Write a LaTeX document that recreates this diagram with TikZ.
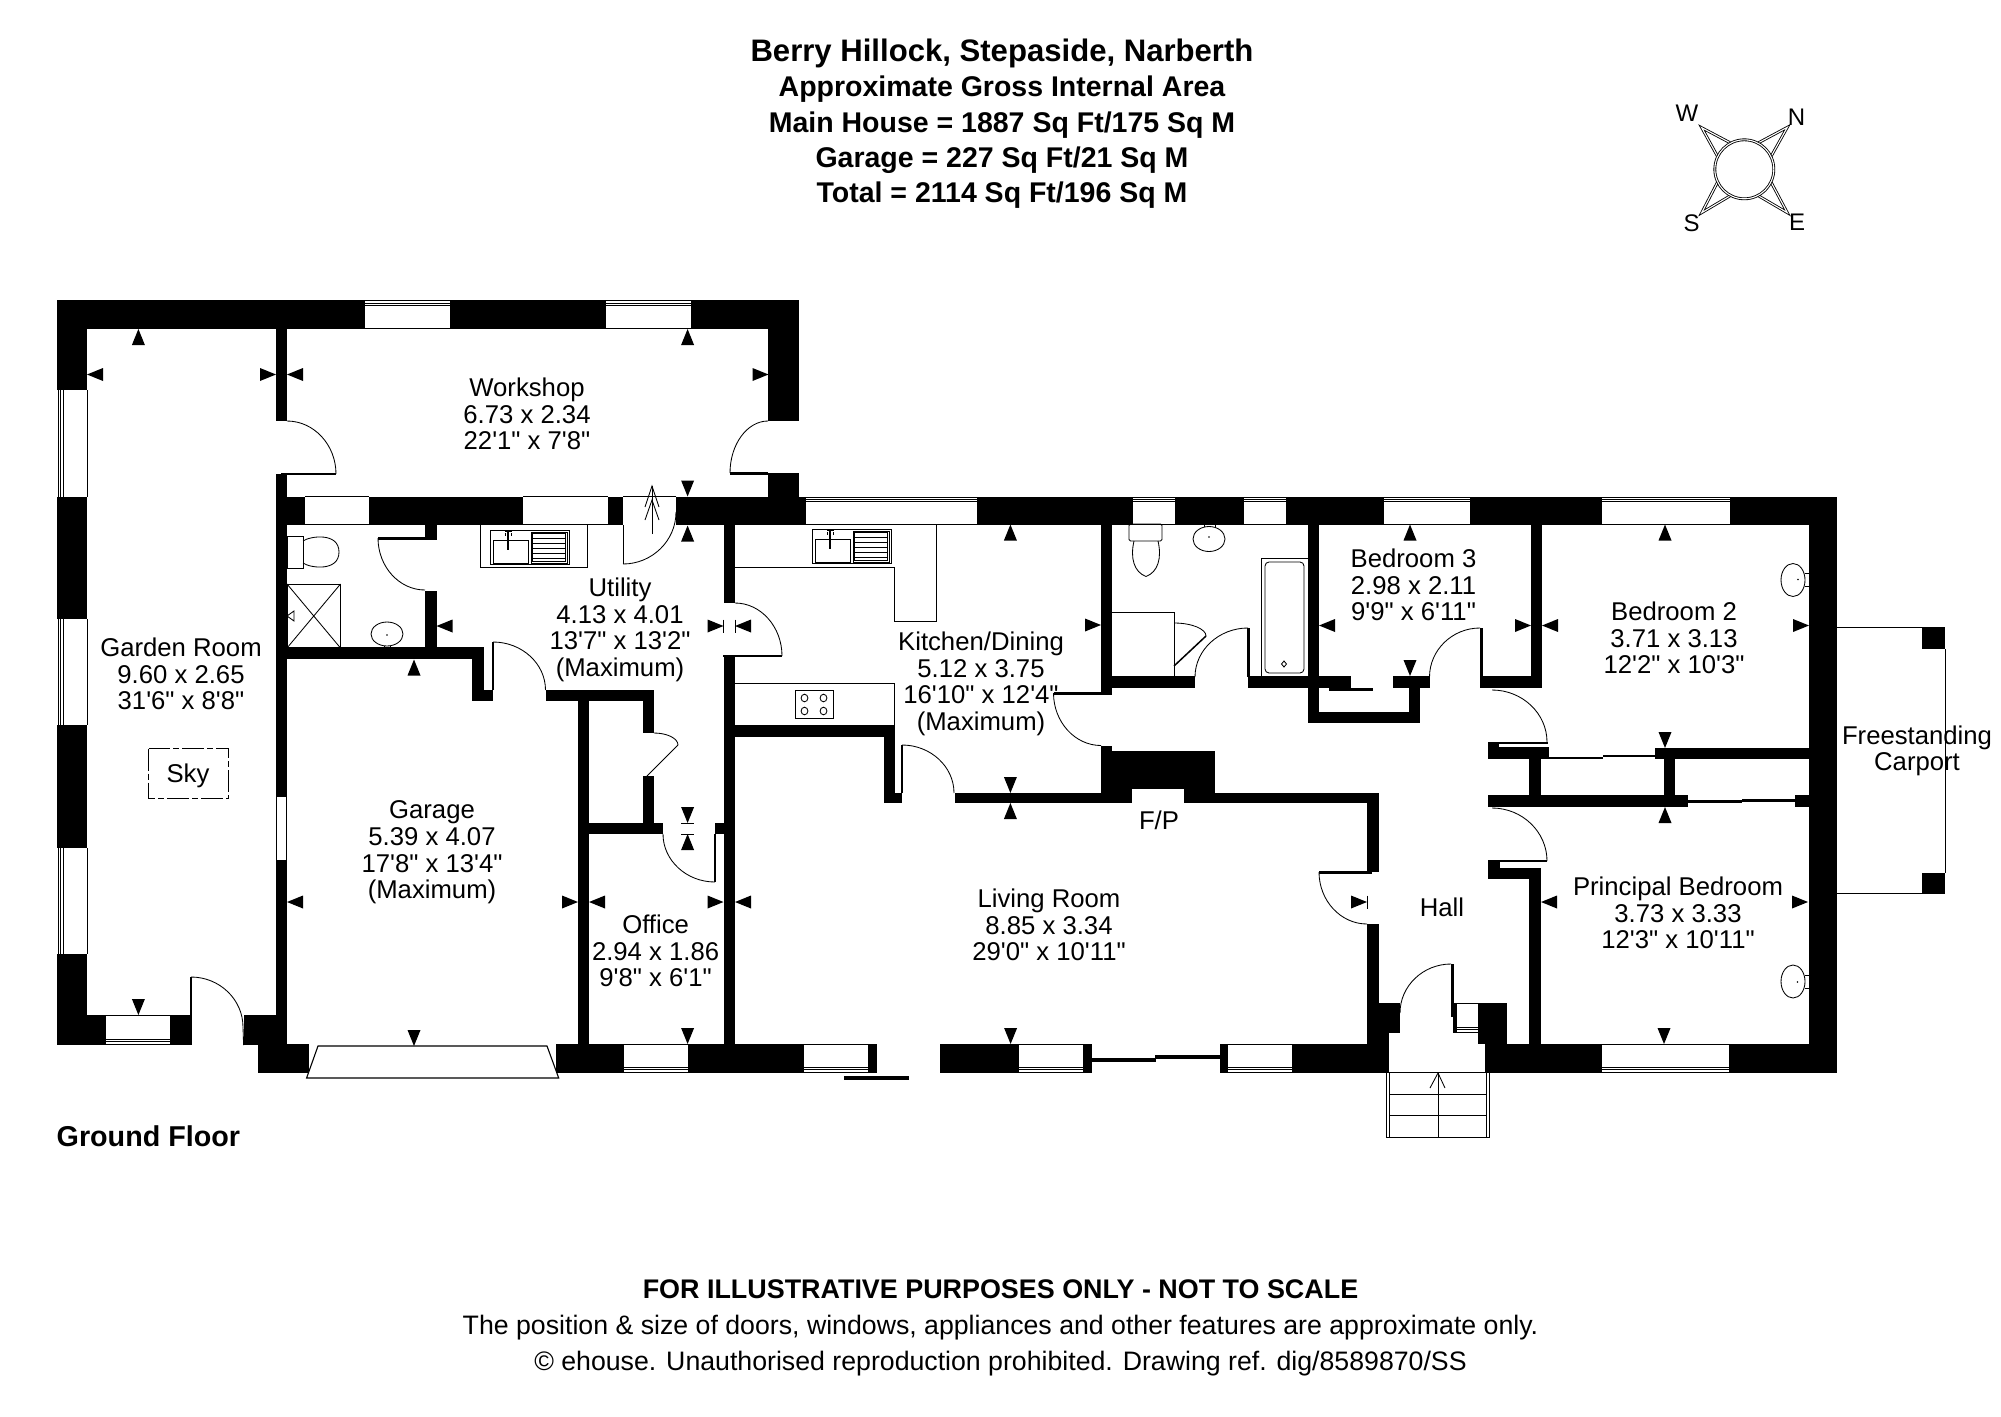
\documentclass[tikz,border=0pt]{standalone}
\usepackage{fontspec}
\setmainfont{Liberation Sans}[Ligatures=TeXOff]
\newcommand\wl[4]{\fill[wallfill] (#1,#2) rectangle (#3,#4);}
\newcommand\gapw[4]{\fill[white] (#1,#2) rectangle (#3,#4);}
\newcommand\wn[4]{\fill[white] (#1,#3) rectangle (#2,#4);
  \foreach \d in {0.8,3,5.2}{\draw[thinl] (#1,#3+\d) -- (#2,#3+\d);}
  \draw[thinl] (#1,#4) -- (#2,#4);}
\newcommand\ws[4]{\fill[white] (#1,#3) rectangle (#2,#4);
  \foreach \d in {1,3.2,5.4}{\draw[thinl] (#1,#4-\d) -- (#2,#4-\d);}
  \draw[thinl] (#1,#3) -- (#2,#3);}
\newcommand\wwest[2]{\fill[white] (57,#1) rectangle (87,#2);
  \foreach \d in {58,60.5,63}{\draw[thinl] (\d,#1) -- (\d,#2);}
  \draw[thinl] (87,#1) -- (87,#2);}
% door swing: horizontal tangent at the start, vertical at the end
\newcommand\swing[4]{\draw[thinl] (#1,#2) .. controls ({#1+0.55*(#3-#1)},#2) and (#3,{#4-0.55*(#4-#2)}) .. (#3,#4);}
\newcommand\arwU[2]{\fill[black] (#1,#2) -- ({#1-6.5},{#2+16}) -- ({#1+6.5},{#2+16}) -- cycle;}
\newcommand\arwD[2]{\fill[black] (#1,#2) -- ({#1-6.5},{#2-16}) -- ({#1+6.5},{#2-16}) -- cycle;}
\newcommand\arwL[2]{\fill[black] (#1,#2) -- ({#1+16},{#2-6.5}) -- ({#1+16},{#2+6.5}) -- cycle;}
\newcommand\arwR[2]{\fill[black] (#1,#2) -- ({#1-16},{#2-6.5}) -- ({#1-16},{#2+6.5}) -- cycle;}
\newcommand\sinkunit[2]{%
  \begin{scope}[shift={(#1,#2)}]
  \draw[thinl] (0,0) rectangle (79,34);
  \draw[thinl] (3,10) rectangle (38,33);
  \draw[thinl] (41,2) rectangle (77,33);
  \draw[thinl] (42.5,3.5) rectangle (75.5,31.5);
  \foreach \d in {8,13,18,23,28}{\draw[thinl] (42.5,\d) -- (75.5,\d);}
  \draw[line width=1.4pt] (18,1) -- (18,20);
  \draw[line width=1.4pt] (14.5,1) -- (21.5,1);
  \draw[line width=1pt] (15,3) -- (15,6) (21,3) -- (21,6);
  \end{scope}}
\tikzset{
  wallfill/.style={fill=black},
  thinl/.style={draw=black,line width=0.85pt},
  lab/.style={font=\fontsize{25.7}{26.6}\selectfont,align=center,inner sep=0pt},
  ttlbig/.style={font=\fontsize{31.1}{35.4}\selectfont\bfseries,anchor=base,inner sep=0pt},
  ttl/.style={font=\fontsize{28.5}{35.4}\selectfont\bfseries,anchor=base,inner sep=0pt},
  foot/.style={font=\fontsize{26.7}{36}\selectfont,align=center,inner sep=0pt},
  comp/.style={font=\fontsize{24}{24}\selectfont,inner sep=0pt},
  compline/.style={draw=black,line width=0.85pt,double=white,double distance=1.1pt,fill=white},
}
\begin{document}
\begin{tikzpicture}[x=1pt,y=-1pt]
\useasboundingbox (0,0) rectangle (2001,1416);
\fill[white] (0,0) rectangle (2001,1416);

% ---- outer walls
\wl{57}{300}{799}{328.5}
\wl{57}{300}{87}{1045}
\wl{276}{328}{287}{421}
\wl{276}{474}{287}{1045}
\wl{768}{328}{799}{421}
\wl{768}{473}{799}{497}
\wl{281}{473}{336}{475}
\wl{730}{472}{768}{474.5}
\wl{276}{496.5}{1837}{524.5}
\wl{1809}{496.5}{1837}{1073}
\wl{57}{1015}{191}{1045}
\wl{243.6}{1015}{287}{1045}
\wl{258}{1044}{309}{1073}
\wl{556}{1044}{877}{1073}
\wl{940}{1044}{1092}{1073}
\wl{1220}{1044}{1389}{1073}
\wl{1485}{1044}{1837}{1073}
\wl{1092}{1058}{1156}{1062}
\wl{1155}{1055}{1220}{1059}
\wl{844}{1076}{909}{1080}

% ---- interior walls
\wl{723.5}{524}{735}{603}
\wl{723.5}{656}{735}{1045}
\wl{723}{655}{782}{657}
\wl{425}{524}{436.5}{539}
\wl{378}{537}{436.5}{540}
\wl{425}{591}{436.5}{648}
\wl{287}{647}{483.5}{659}
\wl{472}{659}{483.5}{701}
\wl{472}{690}{493}{701}
\wl{491.5}{642}{493.5}{690}
\wl{545.5}{690}{654}{701}
\wl{578}{690}{589}{1045}
\wl{642.5}{701}{654}{733}
\wl{642.5}{776}{654}{834}
\wl{589}{823}{663}{834}
\wl{715}{823}{723.5}{834}
\wl{714}{834}{716}{882}
\wl{735}{725}{895}{737}
\wl{884}{725}{895}{803}
\wl{884}{793}{902}{803}
\wl{900.5}{745}{902.5}{793}
\wl{955}{793}{1379}{803}
\wl{1367}{793}{1379}{872}
\wl{1319}{870.5}{1372}{873.5}
\wl{1367}{924}{1379}{1045}
\wl{1101}{524}{1112}{693}
\wl{1053.5}{692}{1112}{694.5}
\wl{1112}{676}{1195}{688}
\wl{1101}{746}{1112}{760}
\wl{1101}{751}{1215}{803}
\wl{1248}{676}{1351}{688}
\wl{1247}{628}{1249.5}{677}
\wl{1308}{524}{1319}{723}
\wl{1308}{712}{1420}{723}
\wl{1409}{688}{1420}{723}
\wl{1393}{676}{1429.5}{688}
\wl{1329}{688}{1373}{691}
\wl{1480}{628}{1482.5}{677}
\wl{1480}{676}{1542}{688}
\wl{1531}{524}{1542}{688}
% corridor to bedrooms
\wl{1488}{742}{1499}{759}
\wl{1488}{747}{1549}{759}
\wl{1499}{742}{1548}{744}
\wl{1549}{757}{1603}{759}
\wl{1603}{755}{1655}{757}
\wl{1655}{748}{1809}{759}
\wl{1529}{759}{1541}{795}
\wl{1664}{759}{1675}{795}
\wl{1488}{795}{1687.5}{807}
\wl{1687}{800}{1742}{803}
\wl{1742}{799}{1795}{802}
\wl{1795}{795}{1809}{807}
\wl{1488}{860}{1500}{879}
\wl{1488}{868}{1541}{879}
\wl{1499}{860}{1547}{862}
\wl{1529}{868}{1541}{1045}
% porch surround
\wl{1367}{1003}{1400}{1033}
\wl{1367}{1033}{1389}{1073}
\wl{1451}{964}{1454}{1017}
\wl{1453}{1003}{1457}{1033}
\wl{1478}{1003}{1507}{1044}
\wl{1485}{1033}{1507}{1073}

% ---- door gap, fireplace
\gapw{623}{496}{676}{525}
\draw[thinl] (623,496.5) -- (676,496.5);
\draw[thinl] (676,496.5) -- (676,512);
\gapw{1132}{789}{1184}{803}

% ---- windows
\wn{365}{450}{300}{328}
\wn{606}{691}{300}{328}
\wn{806}{977}{496.5}{524}
\wn{1133}{1175}{496.5}{524}
\wn{1244}{1286}{496.5}{524}
\wn{1384}{1470}{496.5}{524}
\wn{1602}{1729.5}{496.5}{524}
\wwest{390}{497}
\wwest{619}{725}
\wwest{848}{954}
\ws{106}{170}{1015}{1045}
\ws{624}{688}{1044}{1073}
\ws{804}{868}{1044}{1073}
\ws{1019}{1083}{1044}{1073}
\ws{1228}{1292}{1044}{1073}
\ws{1602}{1729}{1044}{1073}
\ws{1457}{1478}{1003}{1033}
% internal windows
\fill[white] (305,496.5) rectangle (369,524.5);
\fill[white] (523,496.5) rectangle (608,524.5);
\draw[thinl] (305,496.5) -- (369,496.5) (305,524.5) -- (369,524.5);
\draw[thinl] (523,496.5) -- (608,496.5) (523,524.5) -- (608,524.5);
\fill[white] (276.5,796) rectangle (286.5,860);
\draw[thinl] (276.5,796) rectangle (286.5,860);

% ---- garage door
\draw[thinl,line width=1.1pt,fill=white] (318,1046) -- (547,1046) -- (558.7,1078) -- (306.6,1078) -- cycle;

% ---- door swings
\swing{287}{421}{336}{474}
\swing{768}{421}{730}{473}
\swing{623}{564}{676}{512}
\draw[thinl] (623,525) -- (623,564);
\swing{425}{590}{378}{538}
\swing{493}{642}{545.5}{690}
\swing{654}{733}{678}{745}
\draw[thinl] (678,745) -- (647,776);
\swing{715}{882}{663}{834}
\swing{735}{603}{782}{656}
\swing{902}{745}{954}{793}
\swing{1101}{745.5}{1053.5}{693}
\swing{1174}{623}{1206}{636}
\draw[line width=1.5pt] (1206,636) -- (1174,666);
\swing{1248}{628}{1195}{677}
\swing{1480}{628}{1429.5}{677}
\swing{1492}{690}{1547}{742}
\swing{1492}{808}{1547}{861}
\swing{1367}{924}{1319}{872}
\swing{1451}{964}{1400}{1013}
\wl{190}{977}{192}{1045}
\swing{191}{977}{243}{1027}
\draw[thinl] (243,1027) -- (243.6,1045);

% back-door arrow
\draw[thinl] (652,534) -- (652,486);
\draw[thinl] (645,507) -- (652,486) -- (659,507);
\draw[thinl] (645,520) -- (652,500) -- (659,520);

% ---- fittings: utility
\sinkunit{490}{530}
\draw[thinl] (480,525) -- (480,567) -- (587,567) -- (587,525);
\draw[thinl] (287,536) rectangle (303,568);
\draw[thinl] (303,541) .. controls (310,536) and (339,532) .. (339,552) .. controls (339,572) and (310,568) .. (303,563);
\draw[thinl] (287,584) rectangle (340.5,648);
\draw[thinl] (287,584) -- (340.5,648) (340.5,584) -- (287,648);
\draw[thinl] (294,611) -- (287,616) -- (294,621) -- cycle;
\draw[thinl] (387,634) ellipse [x radius=16,y radius=12];
\draw[thinl] (384,646) -- (384,648) (390,646) -- (390,648);
\fill (387,635) circle [radius=0.8];

% ---- fittings: kitchen
\draw[thinl] (735,567) -- (894,567) -- (894,621) -- (936,621) -- (936,524);
\sinkunit{812}{529}
\draw[thinl] (735,683) -- (894,683) -- (894,725);
\draw[thinl] (795.5,690) rectangle (833,718);
\foreach \cx in {804.5,823.5}{\foreach \cy in {698,711}{\draw[thinl] (\cx,\cy) ellipse [x radius=3.4,y radius=3.8];}}

% ---- fittings: bathroom
\draw[thinl,rounded corners=1.5pt] (1129,524) rectangle (1162,541);
\draw[thinl] (1134,541) .. controls (1130,558) and (1134,572) .. (1146,576.5) .. controls (1158,572) and (1162,558) .. (1158,541);
\draw[thinl] (1209,539) ellipse [x radius=16,y radius=12.5];
\draw[thinl] (1204,524.5) -- (1204,527) (1215,524.5) -- (1215,527);
\fill (1209,537) circle [radius=0.9];
\draw[thinl] (1261.5,676) -- (1261.5,558) -- (1308,558);
\draw[thinl,rounded corners=4pt] (1265,562) rectangle (1304,673);
\draw[thinl] (1284,661) -- (1286.5,664) -- (1284,667) -- (1281.5,664) -- cycle;
\draw[thinl] (1112,612) -- (1174,612) -- (1174,676);

% ---- fittings: bedroom sinks
\draw[thinl] (1793,580) ellipse [x radius=12,y radius=16.5];
\draw[thinl] (1805,573) -- (1809,573) (1805,586) -- (1809,586);
\fill (1798,579.5) circle [radius=0.9];
\draw[thinl] (1793,981.5) ellipse [x radius=12,y radius=16.5];
\draw[thinl] (1805,975) -- (1809,975) (1805,988) -- (1809,988);
\fill (1797.5,982) circle [radius=0.9];

% ---- carport
\draw[thinl] (1837,627) -- (1922,627);
\draw[thinl] (1837,893.5) -- (1922,893.5);
\draw[thinl] (1945,649) -- (1945,873);
\wl{1922}{627}{1945}{649}
\wl{1922}{873}{1945}{894}

% ---- porch steps
\draw[thinl] (1386,1072) -- (1386,1137) -- (1489,1137) -- (1489,1072);
\draw[thinl] (1389,1072) -- (1389,1137) (1486,1072) -- (1486,1137);
\draw[thinl] (1389,1072.5) -- (1486,1072.5) (1389,1094) -- (1486,1094) (1389,1115) -- (1486,1115);
\draw[thinl] (1438,1073) -- (1438,1137);
\draw[thinl] (1430,1088) -- (1438,1073) -- (1445,1088);

% ---- skylight
\draw[thinl,dash pattern=on 22pt off 3pt on 6pt off 3pt] (148.6,748.5) rectangle (228.6,798);

% ---- dimension arrows
\arwU{138.4}{329} \arwL{87}{374.5} \arwR{276}{374.5} \arwL{287}{374.5}
\arwU{687.6}{329} \arwR{768.5}{374.5} \arwD{687.6}{496.5} \arwU{687.6}{525.5}
\arwL{436.5}{626} \arwR{723.5}{626} \arwL{735}{626} \arwU{414}{659.5}
\arwD{687.6}{823} \arwU{687.6}{834}
\arwL{287}{902} \arwR{578}{902} \arwL{589}{902} \arwR{723.5}{902} \arwL{735}{902}
\arwD{138.4}{1015} \arwD{414}{1046} \arwD{687.6}{1044}
\arwU{1010.4}{524.5} \arwR{1101}{625} \arwD{1010.4}{793} \arwU{1010.4}{803}
\arwU{1410}{524.5} \arwL{1319}{625.5} \arwD{1410}{676} \arwR{1531}{625.5} \arwL{1542}{625.5}
\arwU{1665}{524.5} \arwR{1809}{625.5} \arwD{1665}{748} \arwU{1665}{807}
\arwL{1541}{902} \arwR{1808}{902} \arwD{1664}{1044}
\arwR{1367}{902} \arwD{1010.6}{1044}
\draw[thinl] (723.5,619.5) -- (723.5,632.5) (735,619.5) -- (735,632.5);
\draw[thinl] (681,823) -- (694,823) (681,834) -- (694,834);
\draw[thinl] (1367,895.5) -- (1367,908.5);

% ---- compass
\draw[compline] (1730,142.7) -- (1701.7,127.7) -- (1717.3,156);
\draw[compline] (1758.6,142.7) -- (1787.3,127.3) -- (1771.3,156);
\draw[compline] (1730,195.9) -- (1701.7,212.7) -- (1717.3,182.6);
\draw[compline] (1758.6,195.9) -- (1787.3,212.7) -- (1771.3,182.6);
\draw[compline] (1744.3,169.3) circle [radius=29.5];
\node[comp] (cw) at (1687,113) {W};
\node[comp] (cn) at (1796.5,117.7) {N};
\node[comp] (cs) at (1691.7,223) {S};
\node[comp] (ce) at (1797,222.7) {E};

% ---- room labels
\node[lab] (workshop) at (527,414) {Workshop\\6.73 x 2.34\\22'1" x 7'8"};
\node[lab] (garden) at (181,674) {Garden Room\\9.60 x 2.65\\31'6" x 8'8"};
\node[lab] (sky) at (188,775.5) {Sky};
\node[lab] (utility) at (620,630) {Utility\\4.13 x 4.01\\13'7" x 13'2"\\(Maximum)};
\node[lab] (garage) at (432,852.5) {Garage\\5.39 x 4.07\\17'8" x 13'4"\\(Maximum)};
\node[lab] (office) at (655.6,951) {Office\\2.94 x 1.86\\9'8" x 6'1"};
\node[lab] (kitchen) at (981,684) {Kitchen/Dining\\5.12 x 3.75\\16'10" x 12'4"\\(Maximum)};
\node[lab] (bed3) at (1413.5,585) {Bedroom 3\\2.98 x 2.11\\9'9" x 6'11"};
\node[lab] (bed2) at (1674,638) {Bedroom 2\\3.71 x 3.13\\12'2" x 10'3"};
\node[lab] (carport) at (1917,751) {Freestanding\\Carport};
\node[lab] (fp) at (1159,820) {F/P};
\node[lab] (living) at (1049,925) {Living Room\\8.85 x 3.34\\29'0" x 10'11"};
\node[lab] (hall) at (1442,907) {Hall};
\node[lab] (principal) at (1678,913) {Principal Bedroom\\3.73 x 3.33\\12'3" x 10'11"};

% ---- title, footer
\node[ttlbig] (title1) at (1002,61) {Berry Hillock, Stepaside, Narberth};
\node[ttl] (title2) at (1002,96) {Approximate Gross Internal Area};
\node[ttl] (title3) at (1002,132) {Main House = 1887 Sq Ft/175 Sq M};
\node[ttl] (title4) at (1002,167.5) {Garage = 227 Sq Ft/21 Sq M};
\node[ttl] (title5) at (1002,202.5) {Total = 2114 Sq Ft/196 Sq M};
\node[font=\fontsize{28.7}{30}\selectfont\bfseries,anchor=west,inner sep=0pt] (floor) at (56.5,1136.5) {Ground Floor};
\node[font=\fontsize{26.9}{30}\selectfont\bfseries,inner sep=0pt] (f1) at (1000.5,1289.5) {FOR ILLUSTRATIVE PURPOSES ONLY - NOT TO SCALE};
\node[foot] (f2) at (1000.5,1328) {The position \& size of doors, windows, appliances and other features are approximate only.};
\node[foot] (f3) at (1000.5,1364) {© ehouse. Unauthorised reproduction prohibited. Drawing ref. dig/8589870/SS};
\end{tikzpicture}
\end{document}
